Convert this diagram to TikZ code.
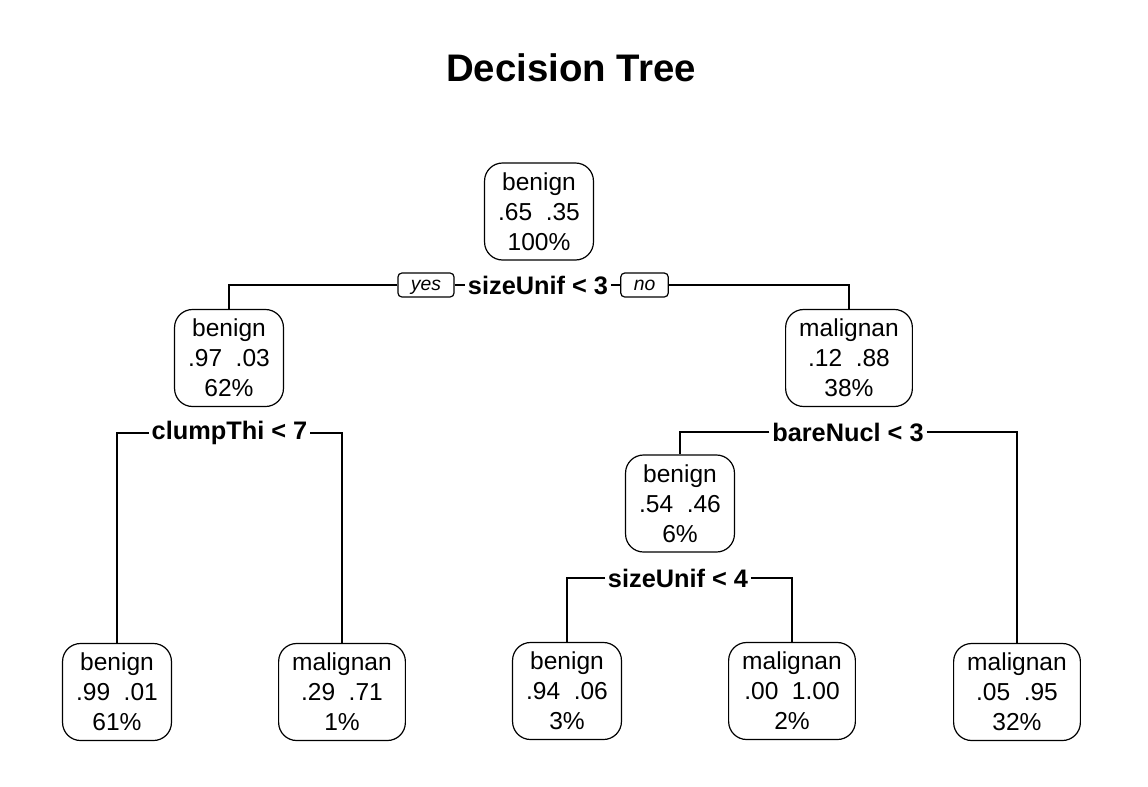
\documentclass[tikz,border=0pt]{standalone}
\usepackage{fontspec}
\setmainfont{Liberation Sans}
\begin{document}
\begin{tikzpicture}[x=0.75pt,y=-0.75pt,
  treebox/.style={draw, line width=0.9pt, rounded corners=13.5pt, align=center,
    font=\fontsize{18.4}{22.5}\selectfont, minimum width=81pt, minimum height=72.75pt,
    inner xsep=10.2pt, inner ysep=0pt},
  splitlbl/.style={font=\bfseries\fontsize{19}{22}\selectfont, inner xsep=2pt, inner ysep=1pt},
  yesno/.style={draw, line width=0.9pt, rounded corners=3pt, font=\itshape\fontsize{14.5}{16}\selectfont,
    minimum height=18pt, text height=10.5pt, text depth=3pt, inner xsep=9.75pt, inner ysep=0pt},
  edge/.style={line width=0.9pt}]
\useasboundingbox (0,0) rectangle (1148,786);
\newcommand{\gp}{\hspace{0.55em}}
\node[font=\bfseries\fontsize{28.8}{32}\selectfont] (title) at (571,68) {Decision Tree};

\node[treebox] (root) at (539,211.5) {benign\\.65\gp.35\\100\%};
\node[splitlbl] (s0) at (538,285) {sizeUnif < 3};
\node[yesno] (yes) at (426,285) {yes};
\node[yesno] (no) at (644.5,285) {no};

\node[treebox] (L) at (229,358) {benign\\.97\gp.03\\62\%};
\node[treebox] (R) at (849,358) {malignan\\.12\gp.88\\38\%};

\node[splitlbl] (s1) at (229.5,433) {clumpThi < 7};
\node[splitlbl] (s2) at (848,432) {bareNucl < 3};

\node[treebox] (RL) at (680,503.5) {benign\\.54\gp.46\\6\%};
\node[splitlbl] (s3) at (678,578) {sizeUnif < 4};

\node[treebox] (LL) at (117,692) {benign\\.99\gp.01\\61\%};
\node[treebox] (LR) at (342,692) {malignan\\.29\gp.71\\1\%};
\node[treebox] (RLL) at (567,691) {benign\\.94\gp.06\\3\%};
\node[treebox] (RLR) at (792,691) {malignan\\.00\gp1.00\\2\%};
\node[treebox] (RR) at (1017,692) {malignan\\.05\gp.95\\32\%};

\draw[edge] (yes.west) -| (L.north);
\draw[edge] (yes.east) -- (s0.west);
\draw[edge] (s0.east) -- (no.west);
\draw[edge] (no.east) -| (R.north);
\draw[edge] (s1.west) -| (LL.north);
\draw[edge] (s1.east) -| (LR.north);
\draw[edge] (s2.west) -| (RL.north);
\draw[edge] (s2.east) -| (RR.north);
\draw[edge] (s3.west) -| (RLL.north);
\draw[edge] (s3.east) -| (RLR.north);
\end{tikzpicture}
\end{document}
